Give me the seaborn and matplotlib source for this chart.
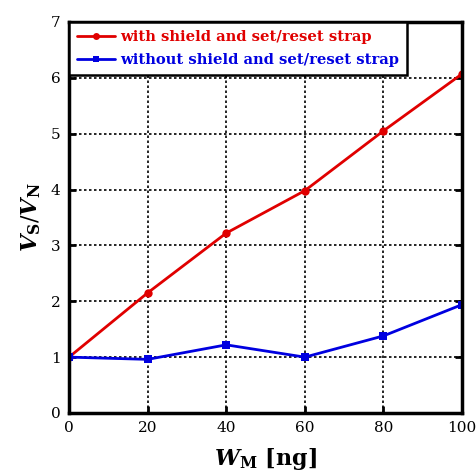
import matplotlib
matplotlib.use("Agg")
import matplotlib.pyplot as plt
import seaborn as sns
import pandas as pd

w_m = [0, 20, 40, 60, 80, 100]
with_shield = [1.0, 2.15, 3.22, 3.98, 5.05, 6.07]
without_shield = [1.0, 0.96, 1.22, 1.0, 1.38, 1.94]
labels = ["with shield and set/reset strap", "without shield and set/reset strap"]
colors = ["#e00000", "#0000e0"]

sns.set_style("ticks")
plt.rcParams["font.family"] = ["DejaVu Serif"]
plt.rcParams["mathtext.fontset"] = "dejavuserif"
plt.rcParams["text.color"] = "black"
plt.rcParams["axes.labelcolor"] = "black"

df = pd.DataFrame({
    "W": w_m * 2,
    "V": with_shield + without_shield,
    "series": [labels[0]] * len(w_m) + [labels[1]] * len(w_m),
})

fig = plt.figure(figsize=(4.77, 4.74), dpi=100)
ax = fig.add_axes([0.1447, 0.1287, 0.8239, 0.825])

sns.lineplot(data=df, x="W", y="V", hue="series", style="series",
             palette=colors, markers=["o", "s"], dashes=False,
             linewidth=2, markersize=6, markeredgewidth=0, ax=ax)

ax.set_xlim(0, 100)
ax.set_ylim(0, 7)
ax.set_xticks(w_m)
ax.set_yticks(range(0, 8))
ax.grid(True, color="black", linestyle=(0, (1.5, 1.5)), linewidth=1.2)
for s in ax.spines.values():
    s.set_linewidth(2.5)
    s.set_color("black")
    s.set_visible(True)
ax.tick_params(direction="in", length=5, width=2, top=True, right=True,
               labelsize=11, colors="black", labelcolor="black", pad=6)
ax.set_axisbelow(True)

ax.set_xlabel(r"$\mathbfit{W}_{\mathbf{M}}$ [ng]", fontsize=16, fontweight="bold",
              labelpad=8, color="black")
ax.set_ylabel(r"$\mathbfit{V}_{\mathbf{S}}/\mathbfit{V}_{\mathbf{N}}$", fontsize=16,
              fontweight="bold", labelpad=6, color="black")

leg = ax.legend(loc="upper left", frameon=True, fancybox=False,
                borderpad=0.55, handlelength=2.6, handletextpad=0.3,
                borderaxespad=0, labelspacing=0.6,
                prop={"weight": "bold", "size": 10.6, "family": "DejaVu Serif"})
leg.get_frame().set_edgecolor("black")
leg.get_frame().set_linewidth(1.8)
leg.get_frame().set_alpha(1)
for t, c in zip(leg.get_texts(), colors):
    t.set_color(c)
for h in leg.legend_handles:
    h.set_markersize(5)

fig.savefig("out.png", dpi=100)
